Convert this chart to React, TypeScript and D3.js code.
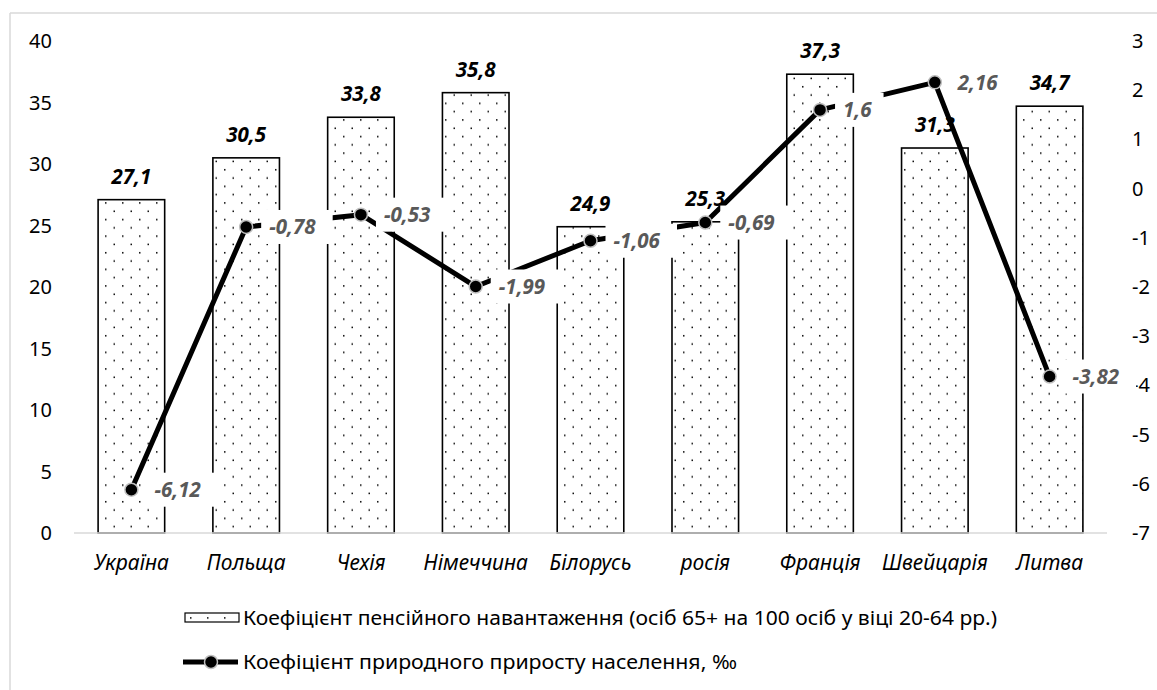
import React from "react";
import * as d3 from "d3";

const categories = ["Україна", "Польща", "Чехія", "Німеччина", "Білорусь", "росія", "Франція", "Швейцарія", "Литва"];
const pensionLoad = [27.1, 30.5, 33.8, 35.8, 24.9, 25.3, 37.3, 31.3, 34.7];
const naturalGrowth = [-6.12, -0.78, -0.53, -1.99, -1.06, -0.69, 1.6, 2.16, -3.82];
const leftTicks = [0, 5, 10, 15, 20, 25, 30, 35, 40];
const rightTicks = [-7, -6, -5, -4, -3, -2, -1, 0, 1, 2, 3];
const legendBar = "Коефіцієнт пенсійного навантаження (осіб 65+ на 100 осіб у віці 20-64 рр.)";
const legendLine = "Коефіцієнт природного приросту населення, ‰";

const W = 1157;
const H = 690;
const FONT = "'Noto Sans', sans-serif";

const fmt = (v: number) => String(v).replace(".", ",");

export default function App() {
  const x = d3.scaleBand<string>().domain(categories).range([74, 1107]).paddingInner(0.42).paddingOuter(0.21);
  const yL = d3.scaleLinear().domain([0, 40]).range([533, 41]);
  const yR = d3.scaleLinear().domain([-7, 3]).range([533, 41]);
  const cx = (c: string) => (x(c) as number) + x.bandwidth() / 2;
  const line = d3
    .line<number>()
    .x((_, i) => cx(categories[i]))
    .y((d) => yR(d));

  return (
    <svg width={W} height={H} style={{ position: "fixed", left: 0, top: 0, background: "#fff" }} fontFamily={FONT}>
      <defs>
        <pattern id="dots" patternUnits="userSpaceOnUse" width={17} height={16.6}>
          <rect x={3} y={3} width={1.5} height={1.5} fill="#000" />
          <rect x={11.5} y={11.3} width={1.5} height={1.5} fill="#000" />
        </pattern>
      </defs>
      <rect x={0} y={0} width={W} height={H} fill="#fff" />
      {/* outer border */}
      <line x1={10} y1={13} x2={W} y2={13} stroke="#d9d9d9" strokeWidth={1.5} />
      <line x1={10} y1={13} x2={10} y2={H} stroke="#d9d9d9" strokeWidth={1.5} />

      {/* left axis labels */}
      {leftTicks.map((t) => (
        <text key={"l" + t} x={52} y={yL(t)} dy="0.35em" textAnchor="end" fontSize={20} fill="#000">
          {t}
        </text>
      ))}
      {/* right axis labels */}
      {rightTicks.map((t) => (
        <text key={"r" + t} x={1132} y={yR(t)} dy="0.35em" textAnchor="start" fontSize={20} fill="#000">
          {t}
        </text>
      ))}

      {/* bars */}
      {categories.map((c, i) => (
        <rect
          key={"b" + c}
          x={x(c)}
          y={yL(pensionLoad[i])}
          width={x.bandwidth()}
          height={yL(0) - yL(pensionLoad[i])}
          fill="url(#dots)"
          stroke="#000"
          strokeWidth={1.6}
        />
      ))}
      {/* axis line */}
      <line x1={74} y1={yL(0)} x2={1107} y2={yL(0)} stroke="#d9d9d9" strokeWidth={1.5} />

      {/* bar labels */}
      {categories.map((c, i) => (
        <text
          key={"bl" + c}
          x={cx(c)}
          y={yL(pensionLoad[i]) - 16}
          textAnchor="middle"
          fontSize={20.5}
          fontWeight="bold"
          fontStyle="italic"
          fill="#000"
        >
          {fmt(pensionLoad[i])}
        </text>
      ))}

      {/* category labels */}
      {categories.map((c) => (
        <text key={"c" + c} x={cx(c)} y={570} textAnchor="middle" fontSize={21} fontStyle="italic" fill="#000">
          {c}
        </text>
      ))}

      {/* line */}
      <path d={line(naturalGrowth) || ""} fill="none" stroke="#000" strokeWidth={5} strokeLinejoin="round" />
      {categories.map((c, i) => (
        <circle key={"m" + c} cx={cx(c)} cy={yR(naturalGrowth[i])} r={6.5} fill="#000" stroke="#bfbfbf" strokeWidth={1.5} />
      ))}

      {/* line labels */}
      {categories.map((c, i) => {
        const px = cx(c);
        const py = yR(naturalGrowth[i]);
        const label = fmt(naturalGrowth[i]);
        const w = label.length * 11.5 + 14;
        return (
          <g key={"ll" + c}>
            <rect x={px + 15} y={py - 17} width={w} height={34} fill="#fff" />
            <text x={px + 23} y={py} dy="0.35em" fontSize={20.5} fontWeight="bold" fontStyle="italic" fill="#595959">
              {label}
            </text>
          </g>
        );
      })}

      {/* legend */}
      <rect x={185} y={613} width={54} height={9} fill="url(#dots)" stroke="#000" strokeWidth={1.2} />
      <text x={243} y={618} dy="0.35em" fontSize={20} fill="#000" textLength={754} lengthAdjust="spacingAndGlyphs">
        {legendBar}
      </text>
      <line x1={183} y1={662} x2={238} y2={662} stroke="#000" strokeWidth={5} />
      <circle cx={211} cy={662} r={6.5} fill="#000" stroke="#bfbfbf" strokeWidth={1.5} />
      <text x={243} y={662} dy="0.35em" fontSize={20} fill="#000" textLength={494} lengthAdjust="spacingAndGlyphs">
        {legendLine}
      </text>
    </svg>
  );
}
